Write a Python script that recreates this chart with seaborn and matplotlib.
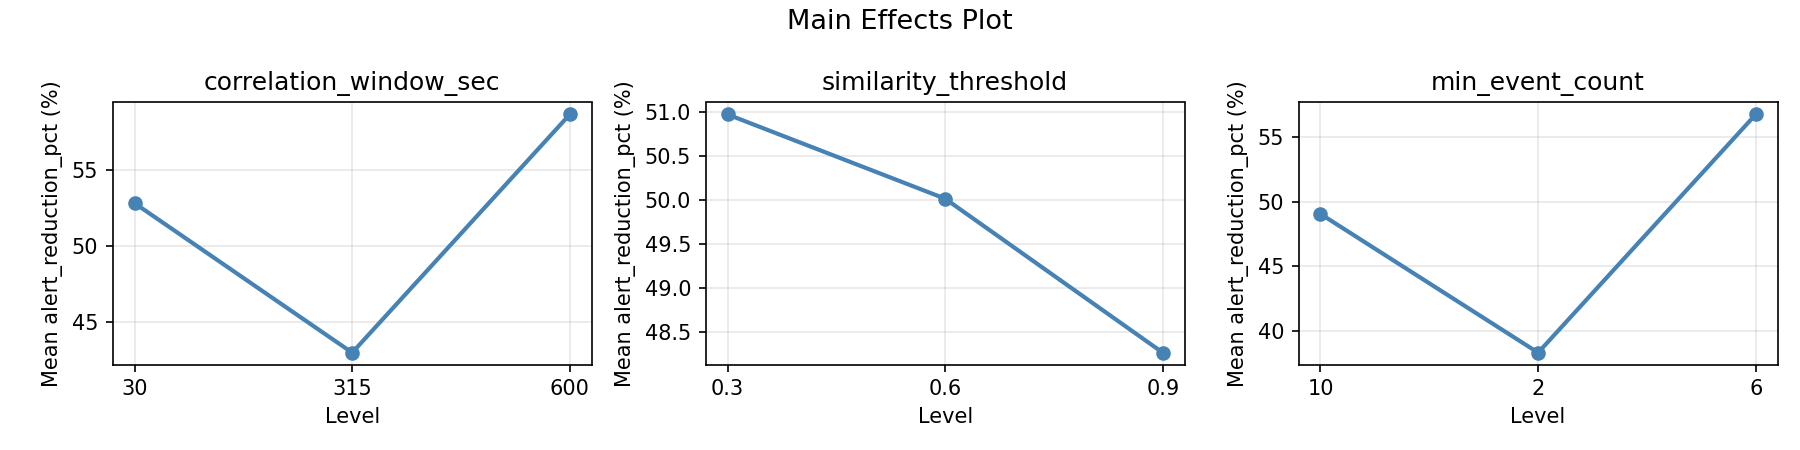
import matplotlib
matplotlib.use("Agg")
import matplotlib.pyplot as plt
import seaborn as sns
import pandas as pd

# -------------------------
# 数据：每个因子各水平的平均 alert_reduction_pct
# -------------------------
factors = ["correlation_window_sec", "similarity_threshold", "min_event_count"]

corr_levels = ["30", "315", "600"]
corr_means = [52.81, 42.99, 58.64]

sim_levels = ["0.3", "0.6", "0.9"]
sim_means = [50.97, 50.015, 48.27]

min_levels = ["10", "2", "6"]
min_means = [49.07, 38.31, 56.79]

level_data = [
    (corr_levels, corr_means),
    (sim_levels, sim_means),
    (min_levels, min_means),
]

# -------------------------
# 绘图
# -------------------------
fig, axes = plt.subplots(1, 3, figsize=(12, 3), dpi=150)

for ax, factor, (levels, means) in zip(axes, factors, level_data):
    df = pd.DataFrame({"Level": levels, "Mean": means})
    sns.lineplot(data=df, x="Level", y="Mean", marker="o", color="steelblue",
                 linewidth=2, markersize=7, markeredgewidth=0, sort=False, ax=ax)
    ax.set_title(factor)
    ax.set_xlabel("Level")
    ax.set_ylabel("Mean alert_reduction_pct (%)")
    ax.grid(True, alpha=0.3)

fig.suptitle("Main Effects Plot", fontsize=13)
plt.tight_layout()
plt.savefig("out.png", dpi=150)
